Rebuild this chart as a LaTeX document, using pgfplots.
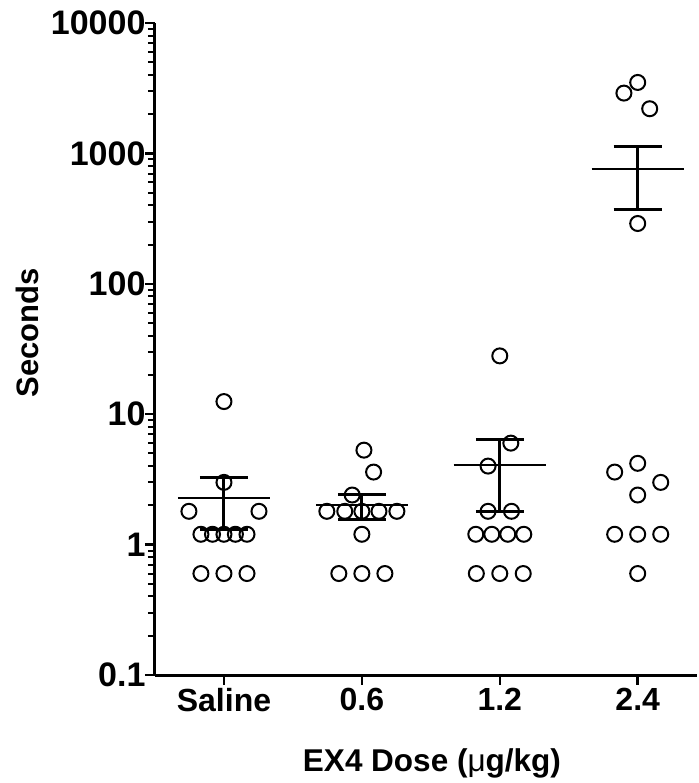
\documentclass[border=0pt]{standalone}
\usepackage{fontspec}
\setmainfont{Liberation Sans}
\usepackage{pgfplots}
\pgfplotsset{compat=1.18}
\usetikzlibrary{calc}
\begin{document}
\begin{tikzpicture}
\begin{axis}[
  name=ax,
  scale only axis,
  width=542pt, height=652pt,
  ymode=log, ymin=0.1, ymax=10000,
  xmin=-0.5, xmax=3.43,
  axis x line=bottom, axis y line=left,
  axis line style={line width=3pt, -},
  xtick={0,1,2,3},
  xticklabels={Saline,0.6,1.2,2.4},
  ytick={0.1,1,10,100,1000,10000},
  yticklabels={0.1,1,10,100,1000,10000},
  yminorticks=true,
  minor ytick={0.2,0.3,0.4,0.5,0.6,0.7,0.8,0.9,2,3,4,5,6,7,8,9,20,30,40,50,60,70,80,90,200,300,400,500,600,700,800,900,2000,3000,4000,5000,6000,7000,8000,9000},
  tick align=outside,
  major tick length=10pt,
  minor tick length=7pt,
  every tick/.style={line width=2.5pt, black},
  every minor tick/.style={line width=2pt, black},
  xticklabel style={font=\fontsize{32}{38}\selectfont\bfseries},
  yticklabel style={font=\fontsize{34}{40}\selectfont\bfseries, xshift=4pt},
  xlabel={EX4 Dose ({\mdseries μ}g/kg)},
  ylabel={Seconds},
  xlabel style={font=\fontsize{31.5}{38}\selectfont\bfseries, at={(axis description cs:0.511,-0.136)}, anchor=center},
  ylabel style={font=\fontsize{31}{38}\selectfont\bfseries, at={(axis description cs:-0.236,0.525)}, anchor=center},
  clip=false,
]
% individual points
\addplot[only marks, mark=o, mark size=7.5pt, line width=2pt, black] coordinates {
 (0,12.5) (0,3.0) (-0.254,1.8) (0.254,1.8)
 (-0.167,1.2) (-0.083,1.2) (0,1.2) (0.083,1.2) (0.167,1.2)
 (-0.167,0.6) (0,0.6) (0.167,0.6)
};
\addplot[only marks, mark=o, mark size=7.5pt, line width=2pt, black] coordinates {
 (1.015,5.3) (1.085,3.6) (0.93,2.4)
 (0.746,1.8) (0.876,1.8) (1,1.8) (1.124,1.8) (1.254,1.8)
 (1,1.2)
 (0.833,0.6) (1,0.6) (1.167,0.6)
};
\addplot[only marks, mark=o, mark size=7.5pt, line width=2pt, black] coordinates {
 (2,28) (2.08,6.0) (1.915,4.0)
 (1.915,1.8) (2.085,1.8)
 (1.826,1.2) (1.942,1.2) (2.058,1.2) (2.174,1.2)
 (1.83,0.6) (2,0.6) (2.17,0.6)
};
\addplot[only marks, mark=o, mark size=7.5pt, line width=2pt, black] coordinates {
 (2.9,2900) (3,3500) (3.087,2200) (3,290)
 (2.833,3.6) (3,4.2) (3.167,3.0) (3,2.4)
 (2.833,1.2) (3,1.2) (3.167,1.2)
 (3,0.6)
};
% means
\addplot[line width=2pt, black] coordinates {(-0.334,2.28) (0.334,2.28)};
\addplot[line width=2pt, black] coordinates {(0.666,2.0) (1.334,2.0)};
\addplot[line width=2pt, black] coordinates {(1.666,4.08) (2.334,4.08)};
\addplot[line width=2pt, black] coordinates {(2.666,755) (3.334,755)};
% error bars (SEM)
\addplot[line width=3pt, black] coordinates {(0,1.30) (0,3.25)};
\addplot[line width=3pt, black] coordinates {(-0.174,1.30) (0.174,1.30)};
\addplot[line width=3pt, black] coordinates {(-0.174,3.25) (0.174,3.25)};
\addplot[line width=3pt, black] coordinates {(1,1.55) (1,2.42)};
\addplot[line width=3pt, black] coordinates {(0.826,1.55) (1.174,1.55)};
\addplot[line width=3pt, black] coordinates {(0.826,2.42) (1.174,2.42)};
\addplot[line width=3pt, black] coordinates {(2,1.8) (2,6.45)};
\addplot[line width=3pt, black] coordinates {(1.826,1.8) (2.174,1.8)};
\addplot[line width=3pt, black] coordinates {(1.826,6.45) (2.174,6.45)};
\addplot[line width=3pt, black] coordinates {(3,374) (3,1130)};
\addplot[line width=3pt, black] coordinates {(2.826,374) (3.174,374)};
\addplot[line width=3pt, black] coordinates {(2.826,1130) (3.174,1130)};
\end{axis}
\path ($(ax.south west)+(-155pt,-108pt)$) rectangle ($(ax.south west)+(542pt,675pt)$);
\end{tikzpicture}
\end{document}
